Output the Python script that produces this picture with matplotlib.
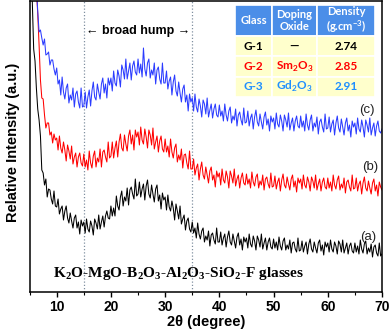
import numpy as np
import matplotlib
matplotlib.use("Agg")
import matplotlib.pyplot as plt
from matplotlib.ticker import MultipleLocator

plt.rcParams["mathtext.fontset"] = "custom"
plt.rcParams["mathtext.rm"] = "Liberation Serif:bold"
plt.rcParams["mathtext.sf"] = "Lato:bold"
plt.rcParams["font.family"] = ["Liberation Sans", "DejaVu Sans"]

# 2-theta scan grid (degrees), 0.25 deg steps
two_theta = np.arange(5.0, 70.01, 0.25)

# relative intensities (patterns are stacked with offsets)
glass_a = [
    426, 346, 290, 243, 231, 204, 183, 172, 156, 122, 119, 107, 113, 95, 103, 102, 93, 88, 101, 86,
    85, 93, 78, 83, 86, 72, 81, 86, 74, 69, 79, 71, 64, 74, 77, 64, 70, 58, 72, 66,
    70, 59, 73, 63, 60, 71, 66, 57, 73, 69, 63, 77, 63, 70, 76, 65, 76, 81, 74, 73,
    86, 76, 84, 76, 96, 86, 82, 95, 101, 86, 95, 91, 104, 87, 102, 105, 98, 93, 113, 96,
    98, 110, 95, 103, 108, 92, 106, 112, 98, 94, 107, 98, 90, 103, 107, 91, 97, 83, 99, 92,
    95, 82, 97, 85, 81, 91, 84, 72, 88, 81, 73, 86, 68, 73, 77, 62, 71, 74, 63, 60,
    70, 59, 64, 54, 69, 58, 53, 61, 64, 50, 56, 52, 61, 46, 57, 59, 52, 48, 64, 50,
    50, 60, 47, 54, 58, 45, 55, 61, 50, 47, 58, 51, 44, 55, 59, 47, 53, 42, 55, 50,
    54, 44, 58, 48, 45, 56, 51, 42, 56, 52, 45, 58, 43, 49, 54, 42, 50, 54, 45, 43,
    53, 44, 50, 42, 55, 46, 42, 51, 54, 42, 47, 43, 52, 39, 49, 50, 43, 40, 54, 41,
    42, 51, 40, 46, 50, 38, 48, 53, 43, 40, 50, 44, 39, 49, 52, 41, 47, 37, 50, 45,
    49, 40, 52, 43, 40, 50, 46, 38, 51, 48, 40, 52, 39, 44, 49, 38, 46, 49, 41, 39,
    49, 40, 46, 38, 52, 43, 39, 48, 51, 38, 44, 40, 48, 35, 45, 47, 39, 36, 49, 36,
    38,
]
glass_b = [
    598, 526, 445, 401, 354, 304, 278, 247, 212, 194, 193, 177, 164, 169, 169, 157, 160, 149, 158, 152,
    154, 142, 156, 144, 139, 150, 142, 131, 147, 141, 133, 146, 128, 135, 139, 125, 135, 139, 129, 126,
    138, 125, 132, 122, 141, 129, 124, 136, 141, 125, 134, 130, 143, 125, 140, 142, 135, 130, 150, 134,
    136, 150, 134, 144, 151, 135, 150, 158, 144, 141, 157, 148, 141, 156, 162, 148, 157, 142, 162, 155,
    160, 147, 165, 152, 148, 163, 155, 144, 162, 157, 147, 164, 143, 150, 156, 140, 151, 156, 143, 140,
    153, 140, 146, 135, 153, 140, 134, 144, 148, 130, 137, 132, 143, 124, 137, 138, 129, 123, 141, 123,
    123, 133, 117, 124, 128, 112, 123, 130, 117, 113, 125, 117, 109, 121, 125, 112, 117, 105, 121, 115,
    119, 107, 123, 112, 109, 121, 115, 104, 121, 116, 109, 123, 106, 113, 117, 104, 114, 119, 109, 107,
    118, 108, 113, 104, 120, 110, 106, 115, 118, 104, 111, 107, 117, 102, 113, 115, 108, 104, 119, 105,
    106, 116, 103, 110, 114, 101, 112, 118, 107, 104, 115, 108, 102, 113, 117, 105, 111, 100, 114, 109,
    113, 103, 117, 107, 104, 115, 110, 101, 115, 111, 104, 117, 102, 108, 113, 101, 110, 114, 105, 103,
    114, 104, 110, 101, 117, 107, 103, 112, 116, 102, 108, 104, 114, 99, 110, 112, 105, 101, 117, 103,
    104, 114, 101, 108, 111, 98, 109, 115, 104, 101, 111, 104, 98, 109, 113, 101, 107, 96, 110, 105,
    102,
]
glass_c = [
    653, 555, 486, 398, 326, 305, 281, 260, 262, 254, 247, 253, 237, 238, 240, 227, 232, 232, 223, 217,
    224, 208, 212, 197, 215, 200, 193, 204, 208, 189, 197, 192, 204, 185, 198, 201, 190, 184, 204, 185,
    186, 200, 184, 195, 202, 186, 201, 210, 195, 192, 208, 200, 193, 208, 214, 199, 208, 194, 214, 207,
    214, 201, 221, 209, 206, 222, 216, 205, 227, 222, 213, 233, 213, 221, 229, 212, 226, 231, 220, 217,
    233, 219, 228, 215, 244, 223, 216, 229, 233, 214, 222, 217, 229, 208, 222, 225, 213, 208, 229, 209,
    209, 221, 203, 211, 215, 197, 210, 217, 201, 196, 210, 199, 190, 203, 207, 190, 197, 181, 198, 190,
    194, 181, 198, 185, 180, 193, 186, 175, 192, 188, 178, 194, 175, 182, 188, 174, 183, 188, 177, 175,
    187, 176, 181, 171, 188, 177, 171, 181, 185, 169, 176, 172, 183, 166, 177, 180, 172, 167, 184, 169,
    170, 181, 166, 174, 178, 163, 175, 182, 170, 166, 178, 170, 163, 175, 180, 167, 173, 161, 176, 170,
    174, 163, 179, 168, 165, 177, 171, 161, 177, 172, 165, 179, 162, 169, 174, 161, 171, 176, 166, 164,
    176, 165, 171, 161, 178, 167, 162, 172, 177, 161, 169, 165, 175, 158, 170, 173, 165, 160, 178, 163,
    164, 175, 160, 168, 172, 157, 169, 176, 164, 160, 173, 165, 157, 169, 174, 161, 167, 155, 171, 165,
    169, 158, 174, 163, 160, 172, 165, 155, 172, 167, 160, 174, 157, 164, 169, 156, 166, 171, 161, 159,
    163,
]

hump_edges = [15, 35]

glass_ids = ["G-1", "G-2", "G-3"]
doping_oxides = ["\u2014", r"Sm$_\mathsf{2}$O$_\mathsf{3}$", r"Gd$_\mathsf{2}$O$_\mathsf{3}$"]
densities = ["2.74", "2.85", "2.91"]
table_header = ["Glass", "Doping\nOxide", "Density\n(g.cm$^\\mathsf{-3}$)"]
row_colors = ["#000000", "#ff0000", "#1f8fff"]

fig = plt.figure(figsize=(3.92, 3.31), dpi=100)
ax = fig.add_axes([29.6 / 392, 39 / 331, 352.4 / 392, 291 / 331])

ax.plot(two_theta, glass_a, color="#000000", lw=0.75)
ax.plot(two_theta, glass_b, color="#ff0000", lw=0.75)
ax.plot(two_theta, glass_c, color="#2b3cff", lw=0.75)

for x in hump_edges:
    ax.axvline(x, color="#8090a0", lw=0.9, ls=(0, (1, 1.6)), zorder=0)

ax.set_xlim(5, 70)
ax.set_ylim(0, 291)
ax.set_yticks([])
ax.xaxis.set_major_locator(MultipleLocator(10))
ax.xaxis.set_minor_locator(MultipleLocator(5))
ax.tick_params(axis="x", which="major", direction="out", length=3.5, width=1.0, pad=2)
ax.tick_params(axis="x", which="minor", direction="out", length=2, width=0.8)
for lab in ax.get_xticklabels():
    lab.set_fontweight("bold")
    lab.set_fontsize(10)
for sp in ax.spines.values():
    sp.set_linewidth(1.1)

ax.set_xlabel("2\u03b8 (degree)", fontsize=10.5, fontweight="bold", labelpad=1)
ax.set_ylabel("Relative Intensity (a.u.)", fontsize=10.5, fontweight="bold")
ax.yaxis.set_label_coords(-0.028, 0.515)

ax.text(25, 261, "\u2190 broad hump \u2192", ha="center", va="center",
        fontsize=9, fontweight="bold")
ax.text(67.4, 55, "(a)", ha="center", va="center", fontsize=9.5, color="#222222")
ax.text(67.8, 125, "(b)", ha="center", va="center", fontsize=9.5, color="#222222")
ax.text(67.3, 182, "(c)", ha="center", va="center", fontsize=9.5, color="#222222")
ax.text(32.4, 19,
        r"K$_\mathrm{2}$O-MgO-B$_\mathrm{2}$O$_\mathrm{3}$-Al$_\mathrm{2}$O$_\mathrm{3}$"
        r"-SiO$_\mathrm{2}$-F glasses",
        ha="center", va="center", fontsize=11, fontweight="bold",
        family="Liberation Serif")

rows = [[g, d, r] for g, d, r in zip(glass_ids, doping_oxides, densities)]
tbl = ax.table(cellText=rows, colLabels=table_header, cellLoc="center",
               colWidths=[37, 45, 58],
               bbox=[205.4 / 352.4, 195 / 291, 140 / 352.4, 92 / 291])
tbl.auto_set_font_size(False)
for (r, c), cell in tbl.get_celld().items():
    cell.set_edgecolor("white")
    cell.set_linewidth(1.2)
    txt = cell.get_text()
    txt.set_fontfamily("Lato")
    txt.set_fontweight("bold")
    if r == 0:
        cell.set_facecolor("#4b8ee8")
        cell.set_height(31)
        txt.set_color("white")
        txt.set_fontsize(8)
    else:
        cell.set_facecolor("#ffffcc")
        cell.set_height(20.3)
        txt.set_color(row_colors[r - 1])
        txt.set_fontsize(8.5)

fig.savefig("out.png", dpi=100)
